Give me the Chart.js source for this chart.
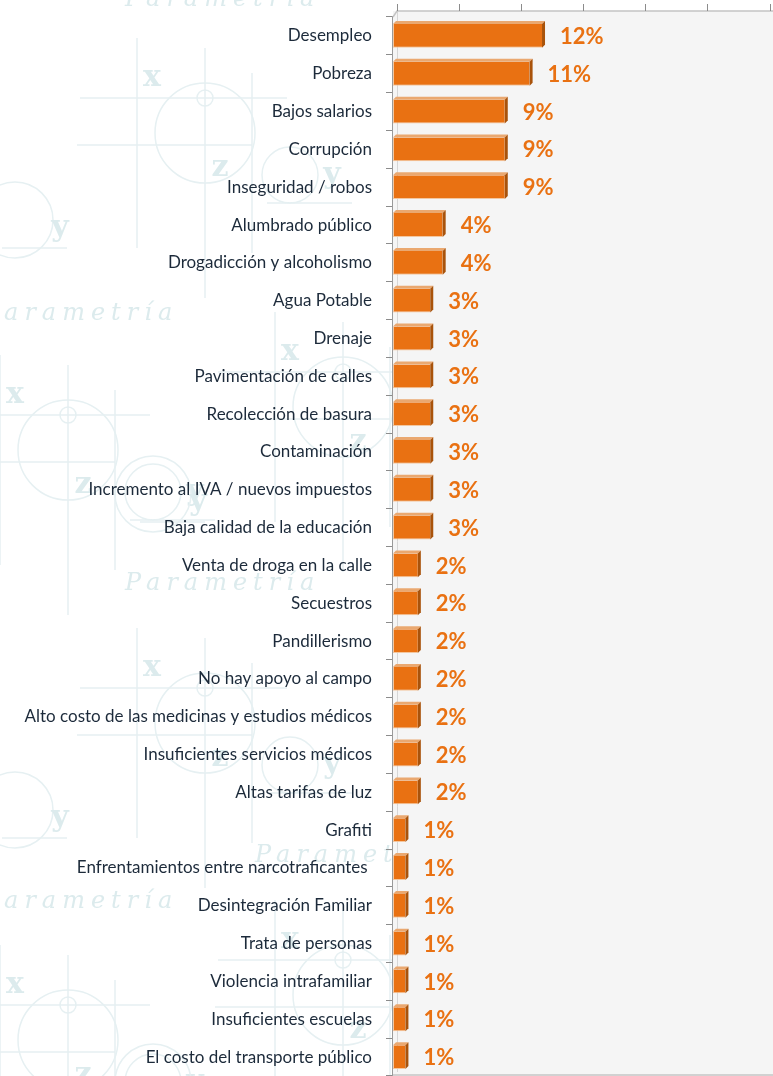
<!DOCTYPE html>
<html>
<head>
<meta charset="utf-8">
<script src="https://cdn.jsdelivr.net/npm/chart.js@4.4.1/dist/chart.umd.min.js"></script>
<style>
  html, body { margin: 0; padding: 0; background: #ffffff; }
  #chart { display: block; }
</style>
</head>
<body>
<canvas id="chart" width="773" height="1076"></canvas>
<script>
// Problemas principales (porcentaje de menciones)
const categories = [
    'Desempleo',
    'Pobreza',
    'Bajos salarios',
    'Corrupción',
    'Inseguridad / robos',
    'Alumbrado público',
    'Drogadicción y alcoholismo',
    'Agua Potable',
    'Drenaje',
    'Pavimentación de calles',
    'Recolección de basura',
    'Contaminación',
    'Incremento al IVA / nuevos impuestos',
    'Baja calidad de la educación',
    'Venta de droga en la calle',
    'Secuestros',
    'Pandillerismo',
    'No hay apoyo al campo',
    'Alto costo de las medicinas y estudios médicos',
    'Insuficientes servicios médicos',
    'Altas tarifas de luz',
    'Grafiti',
    'Enfrentamientos entre narcotraficantes ',
    'Desintegración Familiar',
    'Trata de personas',
    'Violencia intrafamiliar',
    'Insuficientes escuelas',
    'El costo del transporte público'
];
const values = [12, 11, 9, 9, 9, 4, 4, 3, 3, 3, 3, 3, 3, 3, 2, 2, 2, 2, 2, 2, 2, 1, 1, 1, 1, 1, 1, 1];
const axisTicks = [0, 5, 10, 15, 20, 25, 30];

const ORANGE = '#E97112';
const WALL_DX = 4;   // depth of the back wall
const WALL_DY = 6;

// Faint "Parametría" watermark behind everything
const watermark = {
    id: 'watermark',
    beforeDraw(chart) {
        const ctx = chart.ctx;
        ctx.save();
        const motif = (ox, oy) => {
            ctx.strokeStyle = '#e6f0f2';
            ctx.lineWidth = 1.5;
            ctx.beginPath();
            ctx.moveTo(ox - 15, oy - 40); ctx.lineTo(ox - 15, oy + 170);
            ctx.moveTo(ox + 53, oy - 30); ctx.lineTo(ox + 53, oy + 220);
            ctx.moveTo(ox + 100, oy - 5); ctx.lineTo(ox + 100, oy + 175);
            ctx.moveTo(ox - 72, oy + 20); ctx.lineTo(ox + 135, oy + 20);
            ctx.moveTo(ox - 75, oy + 67); ctx.lineTo(ox + 100, oy + 67);
            ctx.moveTo(ox + 115, oy + 125); ctx.lineTo(ox + 200, oy + 125);
            ctx.moveTo(ox - 150, oy + 170); ctx.lineTo(ox - 85, oy + 170);
            ctx.stroke();
            ctx.beginPath();
            ctx.arc(ox + 53, oy + 55, 50, 0, Math.PI * 2);
            ctx.stroke();
            ctx.beginPath();
            ctx.arc(ox + 53, oy + 20, 8, 0, Math.PI * 2);
            ctx.stroke();
            ctx.beginPath();
            ctx.arc(ox + 138, oy + 97, 28, 0, Math.PI * 2);
            ctx.stroke();
            ctx.beginPath();
            ctx.arc(ox - 137, oy + 142, 38, 0, Math.PI * 2);
            ctx.stroke();
            ctx.fillStyle = '#dcebed';
            ctx.font = 'bold 30px "DejaVu Serif"';
            ctx.textAlign = 'center';
            ctx.textBaseline = 'middle';
            ctx.fillText('x', ox, oy);
            ctx.fillText('z', ox + 68, oy + 90);
            ctx.fillText('y', ox + 180, oy + 97);
            ctx.fillText('y', ox - 92, oy + 150);
        };
        [[152, 78], [15, 395], [290, 352], [152, 668], [15, 985], [290, 940]].forEach(p => motif(p[0], p[1]));

        ctx.fillStyle = '#dcebed';
        ctx.font = 'italic 24px "DejaVu Serif"';
        ctx.letterSpacing = '6px';
        ctx.textAlign = 'left';
        ctx.textBaseline = 'alphabetic';
        [[125, 6], [-17, 320], [125, 590], [255, 862], [-17, 908]].forEach(p => {
            ctx.fillText('Parametría', p[0], p[1]);
        });
        ctx.restore();
    }
};

// Gray back wall, its frame and the tick marks along the top
const plotFrame = {
    id: 'plotFrame',
    beforeDatasetsDraw(chart) {
        const { ctx, chartArea } = chart;
        const xScale = chart.scales.x;
        ctx.save();
        ctx.fillStyle = '#f5f5f5';
        ctx.fillRect(chartArea.left, chartArea.top - WALL_DY, chartArea.right - chartArea.left,
            chartArea.bottom - chartArea.top + WALL_DY);

        // back wall edge
        ctx.strokeStyle = '#d6d6d6';
        ctx.lineWidth = 1;
        ctx.beginPath();
        ctx.moveTo(chartArea.left + WALL_DX + 0.5, chartArea.top - WALL_DY);
        ctx.lineTo(chartArea.left + WALL_DX + 0.5, chartArea.bottom - 4);
        ctx.stroke();

        // top edge and corner
        ctx.strokeStyle = '#c4c4c4';
        ctx.lineWidth = 1.5;
        ctx.beginPath();
        ctx.moveTo(chartArea.left, chartArea.top);
        ctx.lineTo(chartArea.left + WALL_DX, chartArea.top - WALL_DY);
        ctx.lineTo(chartArea.right, chartArea.top - WALL_DY);
        ctx.stroke();

        // bottom edge
        ctx.beginPath();
        ctx.moveTo(chartArea.left, chartArea.bottom - 1);
        ctx.lineTo(chartArea.right, chartArea.bottom - 1);
        ctx.stroke();

        // tick marks along the top edge
        ctx.strokeStyle = '#8c8c8c';
        ctx.lineWidth = 1;
        ctx.beginPath();
        axisTicks.forEach(v => {
            const px = Math.round(xScale.getPixelForValue(v) + WALL_DX) + 0.5;
            ctx.moveTo(px, chartArea.top - WALL_DY);
            ctx.lineTo(px, chartArea.top - WALL_DY - 7);
        });
        ctx.stroke();
        ctx.restore();
    }
};

// Side and top faces of each bar, plus the value labels
const barDecor = {
    id: 'barDecor',
    afterDatasetsDraw(chart) {
        const ctx = chart.ctx;
        const meta = chart.getDatasetMeta(0);
        ctx.save();
        meta.data.forEach((bar, i) => {
            const top = bar.y - bar.height / 2;
            const bottom = bar.y + bar.height / 2;
            const d = 3;
            // top face
            ctx.fillStyle = '#eaa870';
            ctx.beginPath();
            ctx.moveTo(bar.base, top);
            ctx.lineTo(bar.base + d, top - d);
            ctx.lineTo(bar.x + d, top - d);
            ctx.lineTo(bar.x, top);
            ctx.closePath();
            ctx.fill();
            // side face
            ctx.fillStyle = '#a9530b';
            ctx.beginPath();
            ctx.moveTo(bar.x, top);
            ctx.lineTo(bar.x + d, top - d);
            ctx.lineTo(bar.x + d, bottom - d);
            ctx.lineTo(bar.x, bottom);
            ctx.closePath();
            ctx.fill();

            ctx.fillStyle = ORANGE;
            ctx.font = 'bold 22px Lato';
            ctx.textAlign = 'left';
            ctx.textBaseline = 'middle';
            ctx.fillText(values[i] + '%', bar.x + 18, bar.y + 1);
        });
        ctx.restore();
    }
};

new Chart(document.getElementById('chart'), {
    type: 'bar',
    data: {
        labels: categories,
        datasets: [{
            data: values,
            backgroundColor: ORANGE,
            borderColor: '#f3c7a0',
            borderWidth: { top: 0, left: 1, right: 0, bottom: 1 },
            borderSkipped: false,
            categoryPercentage: 1,
            barPercentage: 0.63
        }]
    },
    options: {
        indexAxis: 'y',
        responsive: false,
        devicePixelRatio: 1,
        animation: false,
        layout: { padding: 0 },
        plugins: {
            legend: { display: false },
            tooltip: { enabled: false }
        },
        scales: {
            x: {
                position: 'top',
                min: 0,
                max: 30.6,
                ticks: { display: false },
                grid: { display: false },
                border: { display: false },
                afterFit(scale) {
                    scale.height = 17;
                    scale.paddingLeft = 0;
                    scale.paddingRight = 0;
                }
            },
            y: {
                ticks: {
                    color: '#1c2a3a',
                    font: { family: 'Lato', size: 17 },
                    padding: 14,
                    autoSkip: false
                },
                grid: {
                    drawOnChartArea: false,
                    tickLength: 7,
                    color: '#8c8c8c'
                },
                border: { color: '#9a9a9a', width: 2 },
                afterFit(scale) {
                    scale.width = 393;
                    scale.paddingTop = 0;
                    scale.paddingBottom = 0;
                }
            }
        }
    },
    plugins: [watermark, plotFrame, barDecor]
});
</script>
</body>
</html>
